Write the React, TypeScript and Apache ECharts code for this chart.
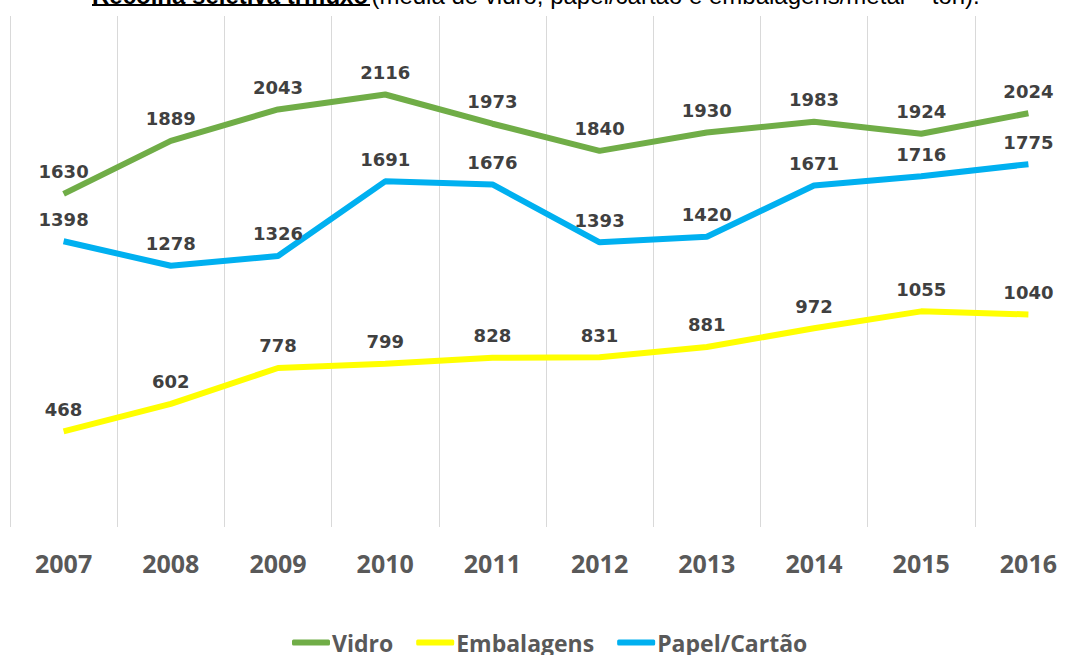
import React, { useEffect, useRef } from "react";
import * as echarts from "echarts";

const years = ["2007", "2008", "2009", "2010", "2011", "2012", "2013", "2014", "2015", "2016"];
const vidro = [1630, 1889, 2043, 2116, 1973, 1840, 1930, 1983, 1924, 2024];
const embalagens = [468, 602, 778, 799, 828, 831, 881, 972, 1055, 1040];
const papel = [1398, 1278, 1326, 1691, 1676, 1393, 1420, 1671, 1716, 1775];

const labelStyle = {
  show: true,
  position: "top" as const,
  distance: 13,
  color: "#404040",
  fontFamily: "DejaVu Sans",
  fontWeight: "bold" as const,
  fontSize: 18,
};

export default function App() {
  const ref = useRef<HTMLDivElement>(null);
  useEffect(() => {
    if (!ref.current) return;
    const chart = echarts.init(ref.current, undefined, { renderer: "svg" });
    const mk = (name: string, data: number[], color: string) => ({
      name,
      type: "line",
      data,
      showSymbol: true,
      symbol: "circle",
      symbolSize: 0,
      lineStyle: { color, width: 6 },
      itemStyle: { color },
      label: labelStyle,
    });
    chart.setOption({
      animation: false,
      backgroundColor: "#ffffff",
      grid: { left: 10, right: 0, top: 16, bottom: 128 },
      xAxis: {
        type: "category",
        data: years,
        boundaryGap: true,
        axisLine: { show: false },
        axisTick: { show: false },
        splitLine: { show: true, lineStyle: { color: "#D9D9D9", width: 1 } },
        axisLabel: {
          color: "#595959",
          fontFamily: "Open Sans",
          fontWeight: "bold",
          fontSize: 25,
          margin: 23,
        },
      },
      yAxis: {
        type: "value",
        min: 0,
        max: 2500,
        show: false,
        splitLine: { show: false },
      },
      legend: {
        left: 287,
        top: 626,
        itemWidth: 38,
        itemHeight: 6,
        itemGap: 23,
        icon: "roundRect",
        textStyle: {
          color: "#595959",
          fontFamily: "Open Sans",
          fontWeight: "bold",
          fontSize: 23,
          padding: [0, 0, 0, -3],
        },
        data: ["Vidro", "Embalagens", "Papel/Cartão"],
      },
      graphic: [
        {
          type: "text",
          left: 92,
          top: -17,
          style: {
            text: "{b|Recolha seletiva trifluxo} {r|(média de vidro, papel/cartão e embalagens/metal – ton).}",
            rich: {
              b: { fontFamily: "Liberation Sans", fontWeight: "bold", fontSize: 24, fill: "#000" },
              r: { fontFamily: "Liberation Sans", fontSize: 24, fill: "#000" },
            },
          },
        },
        {
          type: "rect",
          shape: { x: 92, y: 4, width: 278, height: 2 },
          style: { fill: "#000" },
        },
      ],
      series: [
        mk("Vidro", vidro, "#70AD47"),
        mk("Embalagens", embalagens, "#FFFF00"),
        mk("Papel/Cartão", papel, "#00B0F0"),
      ],
    });
    return () => chart.dispose();
  }, []);
  return (
    <div style={{ position: "absolute", left: 0, top: 0, width: 1070, height: 655, overflow: "hidden" }}>
      <div ref={ref} style={{ width: 1082, height: 655 }} />
    </div>
  );
}
